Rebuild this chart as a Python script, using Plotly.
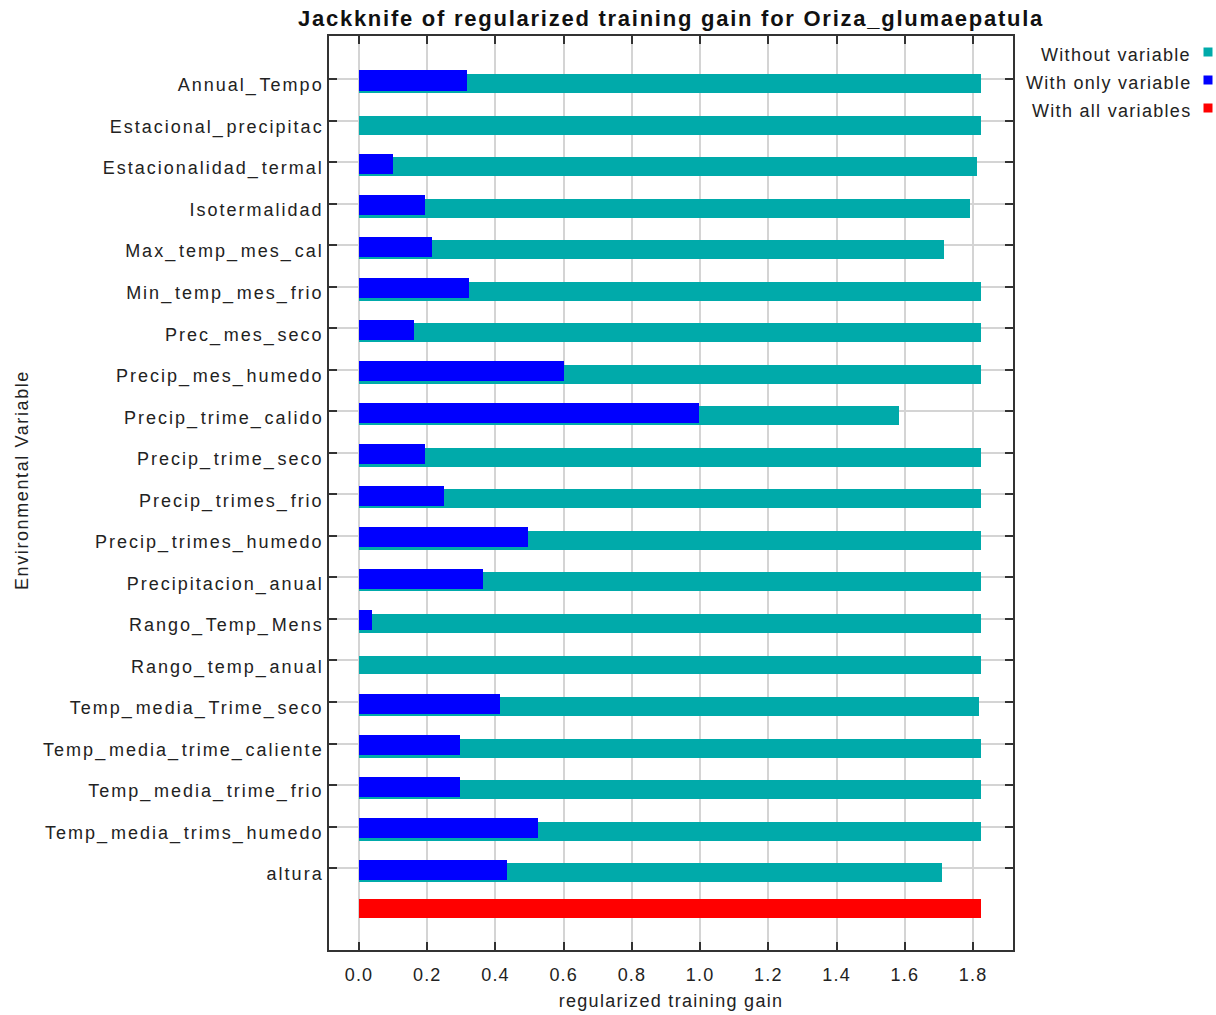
import plotly.graph_objects as go

# Jackknife results (regularized training gain) per environmental variable
variables = [
    "Annual_Tempo", "Estacional_precipitac", "Estacionalidad_termal", "Isotermalidad",
    "Max_temp_mes_cal", "Min_temp_mes_frio", "Prec_mes_seco", "Precip_mes_humedo",
    "Precip_trime_calido", "Precip_trime_seco", "Precip_trimes_frio", "Precip_trimes_humedo",
    "Precipitacion_anual", "Rango_Temp_Mens", "Rango_temp_anual", "Temp_media_Trime_seco",
    "Temp_media_trime_caliente", "Temp_media_trime_frio", "Temp_media_trims_humedo", "altura",
]
without_variable = [
    1.824, 1.824, 1.810, 1.792, 1.716, 1.824, 1.824, 1.824, 1.584, 1.824,
    1.824, 1.824, 1.824, 1.824, 1.824, 1.818, 1.824, 1.824, 1.824, 1.710,
]
with_only_variable = [
    0.317, 0.0, 0.100, 0.194, 0.214, 0.323, 0.161, 0.601, 0.997, 0.194,
    0.249, 0.496, 0.364, 0.038, 0.0, 0.413, 0.296, 0.296, 0.525, 0.434,
]
all_label = "all variables"
with_all_variables = [1.824]

x_ticks = [0.0, 0.2, 0.4, 0.6, 0.8, 1.0, 1.2, 1.4, 1.6, 1.8]

TEAL = "#00AAAA"
BLUE = "#0000FF"
RED = "#FF0000"
FONT = "Liberation Sans, Arial, sans-serif"
TXT = "#222222"


def spaced(s, ls=1.6):
    return f'<span style="letter-spacing:{ls}px">{s}</span>'


def var_label(name, ls=2.0, us_ls=3.8):
    # wider advance for underscores, as in the original Java font
    parts = name.split("_")
    out = []
    for i, p in enumerate(parts):
        if p:
            out.append(spaced(p, ls))
        if i < len(parts) - 1:
            out.append(spaced("_", us_ls))
    return "".join(out)


fig = go.Figure()
fig.add_trace(go.Bar(
    y=variables, x=without_variable, orientation="h", name="Without variable",
    marker=dict(color=TEAL, line=dict(width=0)),
    offset=-0.12, width=0.457, showlegend=False,
))
fig.add_trace(go.Bar(
    y=variables, x=with_only_variable, orientation="h", name="With only variable",
    marker=dict(color=BLUE, line=dict(width=0)),
    offset=-0.205, width=0.482, showlegend=False,
))
fig.add_trace(go.Bar(
    y=[all_label], x=with_all_variables, orientation="h", name="With all variables",
    marker=dict(color=RED, line=dict(width=0)),
    offset=-0.255, width=0.457, showlegend=False,
))

fig.update_layout(
    width=1216, height=1015,
    margin=dict(l=329, r=203, t=36, b=65, pad=0, autoexpand=False),
    paper_bgcolor="white", plot_bgcolor="white",
    barmode="overlay",
    bargap=0,
    font=dict(family=FONT, size=18, color=TXT),
    title=dict(
        text=spaced("<b>Jackknife of regularized training gain for Oriza_glumaepatula</b>", 1.75),
        x=(671 / 1216), xanchor="center", y=1 - 18 / 1015, yanchor="middle",
        font=dict(family=FONT, size=22, color="#111111"),
    ),
)

fig.update_xaxes(
    automargin=False,
    range=[-0.088, 1.917],
    tickvals=x_ticks,
    ticktext=[spaced(f"{v:.1f}", 1.2) for v in x_ticks],
    ticks="inside", ticklen=8, tickwidth=1.5, tickcolor="#333333",
    showline=True, linecolor="#333333", linewidth=1.5, mirror="ticks",
    showgrid=True, gridcolor="#d4d4d4", gridwidth=1.5,
    zeroline=False,
    ticklabelstandoff=8,
    tickfont=dict(family=FONT, size=18, color=TXT),
    title=dict(text=spaced("regularized training gain", 1.3), standoff=10,
               font=dict(family=FONT, size=18, color=TXT)),
)

fig.update_yaxes(
    automargin=False,
    type="category",
    categoryorder="array", categoryarray=variables + [all_label],
    range=[20.97, -1.035],
    tickvals=variables,
    ticktext=[var_label(v) for v in variables],
    ticks="inside", ticklen=8, tickwidth=1.5, tickcolor="#333333",
    showline=True, linecolor="#333333", linewidth=1.5, mirror="ticks",
    showgrid=True, gridcolor="#d4d4d4", gridwidth=1.5,
    zeroline=False,
    ticklabelshift=-6,
    ticklabelstandoff=0,
    tickfont=dict(family=FONT, size=18, color=TXT),
)

# Y-axis title
fig.add_annotation(
    text=spaced("Environmental Variable", 1.6), textangle=-90,
    xref="paper", yref="paper", x=(22 - 329) / 684, y=(950 - 480) / 914,
    xanchor="center", yanchor="middle", showarrow=False,
    font=dict(family=FONT, size=18, color=TXT),
)

# Legend on the right: label text followed by a coloured swatch
legend_items = [("Without variable", TEAL, 55), ("With only variable", BLUE, 83), ("With all variables", RED, 111)]
for label, color, ypix in legend_items:
    fig.add_annotation(
        text=spaced(label, 1.3), xref="paper", yref="paper",
        x=(1193 - 329) / 684, y=(950 - ypix) / 914,
        xanchor="right", yanchor="middle", showarrow=False,
        font=dict(family=FONT, size=18, color=TXT),
    )
    cx, cy = 1208, ypix - 3
    fig.add_shape(
        type="rect", xref="paper", yref="paper",
        x0=(cx - 4.5 - 329) / 684, x1=(cx + 4.5 - 329) / 684,
        y0=(950 - (cy + 4.5)) / 914, y1=(950 - (cy - 4.5)) / 914,
        fillcolor=color, line=dict(width=0),
    )

fig.write_html("out.html")
